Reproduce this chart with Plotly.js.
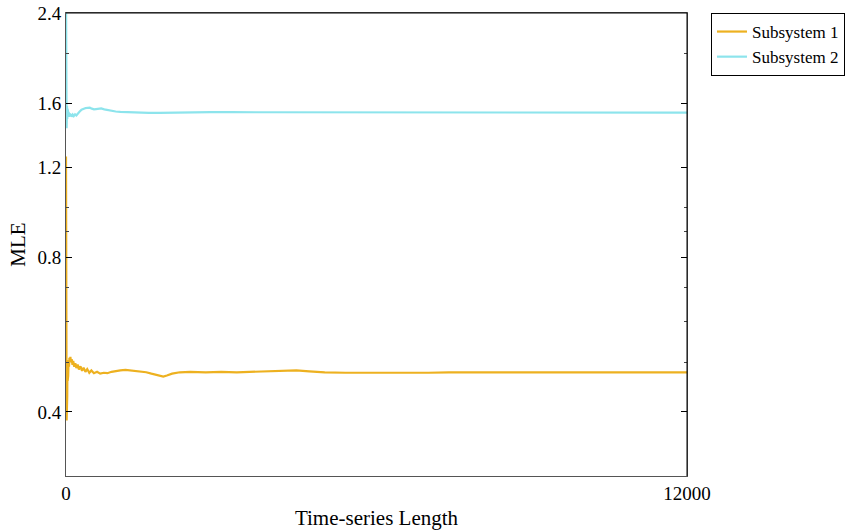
<!DOCTYPE html>
<html>
<head>
<meta charset="utf-8">
<script src="https://cdn.plot.ly/plotly-3.0.1.min.js"></script>
<style>html,body{margin:0;padding:0;background:#fff;}#chart{width:846px;height:530px;}</style>
</head>
<body>
<div id="chart"></div>
<script>
// Subsystem 1 (orange)
const x1 = [0,2,4,6,8,10,12,14,17,20,24,28,32,37,42,50,58,66,75,85,95,110,125,140,160,180,200,225,250,280,310,340,375,410,450,490,540,600,660,730,800,880,960,1050,1150,1250,1350,1450,1550,1650,1750,1820,1880,1950,2050,2200,2400,2700,3000,3300,3600,3900,4200,4450,4700,5000,5400,5800,6200,6600,7000,7400,7800,8200,8600,9000,9400,9800,10200,10600,11000,11400,12000];
const y1 = [1.26,1.05,0.82,0.66,0.56,0.45,0.385,0.41,0.395,0.46,0.43,0.50,0.46,0.49,0.47,0.505,0.49,0.51,0.50,0.512,0.50,0.507,0.494,0.503,0.49,0.498,0.487,0.495,0.484,0.491,0.481,0.488,0.479,0.485,0.477,0.482,0.476,0.479,0.475,0.477,0.476,0.479,0.481,0.482,0.483,0.482,0.481,0.479,0.478,0.475,0.472,0.470,0.469,0.471,0.475,0.478,0.479,0.478,0.479,0.478,0.479,0.480,0.481,0.482,0.480,0.478,0.477,0.477,0.476,0.477,0.477,0.478,0.478,0.478,0.479,0.479,0.479,0.479,0.479,0.479,0.478,0.478,0.478];
// Subsystem 2 (cyan)
const x2 = [0,2,4,6,8,10,12,14,17,20,24,28,32,37,42,50,60,70,80,95,110,130,150,175,200,230,260,300,340,380,420,460,500,540,580,630,680,740,800,880,960,1050,1150,1300,1450,1600,1800,2000,2200,2500,2800,3200,3600,4000,4500,5000,5500,6000,6500,7000,7500,8000,8500,9000,9500,10000,10500,11000,11500,12000];
const y2 = [2.7,2.3,1.95,1.78,1.70,1.62,1.43,1.60,1.48,1.58,1.49,1.56,1.50,1.55,1.51,1.54,1.505,1.53,1.51,1.525,1.507,1.52,1.51,1.522,1.515,1.53,1.54,1.555,1.562,1.566,1.568,1.569,1.562,1.557,1.559,1.562,1.563,1.557,1.552,1.546,1.542,1.539,1.537,1.535,1.533,1.532,1.533,1.535,1.537,1.538,1.538,1.537,1.537,1.536,1.536,1.535,1.534,1.533,1.533,1.533,1.534,1.535,1.535,1.535,1.536,1.536,1.536,1.535,1.535,1.534];

const seriesNames = ['Subsystem 1','Subsystem 2'];
const xTickVals = [0, 12000];
const xTickText = ['0', '12000'];
const yTickVals = [0.4, 0.8, 1.2, 1.6, 2.4];
const yTickText = ['0.4', '0.8', '1.2', '1.6', '2.4'];
const yMinorVals = [0.3, 0.5, 0.6, 0.7, 0.9, 1.0, 2.0];

const FONT = 'Liberation Serif';

const traces = [
  {x: x1, y: y1, name: seriesNames[0], type: 'scatter', mode: 'lines',
   line: {color: '#EDB120', width: 2.2}},
  {x: x2, y: y2, name: seriesNames[1], type: 'scatter', mode: 'lines',
   line: {color: '#8DE4EC', width: 2.2}}
];

const layout = {
  width: 846, height: 530,
  margin: {l: 66, r: 159, t: 13, b: 54, autoexpand: false},
  paper_bgcolor: '#ffffff', plot_bgcolor: '#ffffff',
  font: {family: FONT, size: 18, color: '#000'},
  showlegend: true,
  legend: {
    x: 1.2544, y: 1, xanchor: 'right', yanchor: 'top',
    bordercolor: '#000', borderwidth: 1, bgcolor: '#fff',
    font: {family: FONT, size: 17, color: '#000'},
    tracegroupgap: 0, itemwidth: 30
  },
  xaxis: {
    range: [0, 12000], tickmode: 'array', tickvals: xTickVals, ticktext: xTickText,
    ticks: 'inside', ticklen: 6, tickcolor: '#000',
    showline: true, linecolor: '#555', linewidth: 1, mirror: 'ticks',
    showgrid: false, zeroline: false,
    tickfont: {family: FONT, size: 19},
    title: {text: 'Time-series Length', font: {family: FONT, size: 21}, standoff: 7}
  },
  yaxis: {
    type: 'log', range: [Math.log10(0.3), Math.log10(2.4)],
    tickmode: 'array', tickvals: yTickVals, ticktext: yTickText,
    ticks: 'inside', ticklen: 6, tickcolor: '#000',
    minor: {tickmode: 'array', tickvals: yMinorVals, ticks: 'inside', ticklen: 3, tickcolor: '#444', showgrid: false},
    showline: true, linecolor: '#555', linewidth: 1, mirror: 'ticks',
    showgrid: false, zeroline: false,
    tickfont: {family: FONT, size: 19},
    title: {text: 'MLE', font: {family: FONT, size: 21}, standoff: 6}
  },
  shapes: [
    {type: 'line', xref: 'paper', yref: 'paper', x0: 0, x1: 1, y0: 1, y1: 1, line: {color: '#000', width: 1}, layer: 'above'},
    {type: 'line', xref: 'paper', yref: 'paper', x0: 1, x1: 1, y0: 0, y1: 1, line: {color: '#000', width: 1}, layer: 'above'}
  ]
};

Plotly.newPlot('chart', traces, layout, {staticPlot: true, displayModeBar: false});
</script>
</body>
</html>
